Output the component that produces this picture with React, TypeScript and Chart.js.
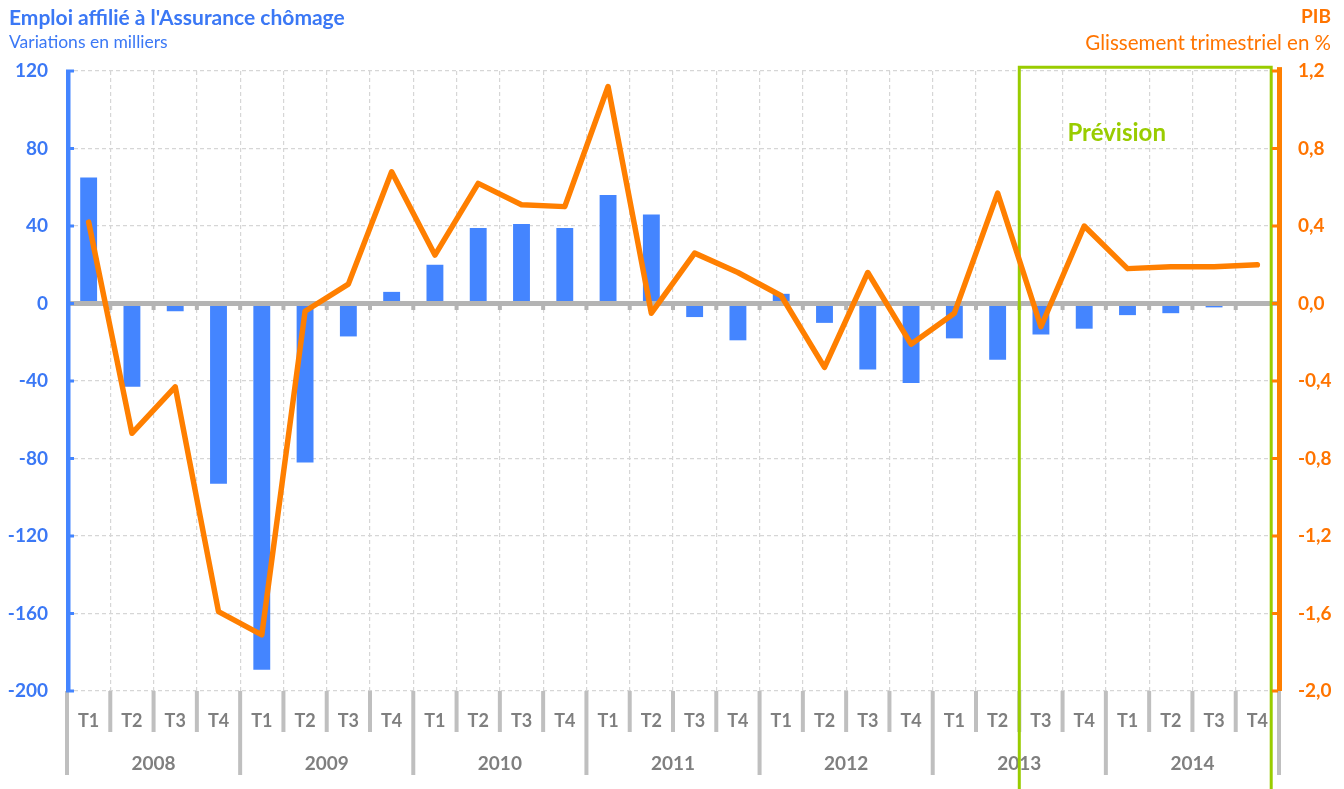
import React, { useEffect, useRef } from 'react';
import { Chart, registerables } from 'chart.js';

Chart.register(...registerables);

// ---- Data ----
const years = ['2008', '2009', '2010', '2011', '2012', '2013', '2014'];
const quarters = ['T1', 'T2', 'T3', 'T4'];
const labels = years.flatMap((y) => quarters.map((q) => `${q} ${y}`));

// Emploi affilié à l'Assurance chômage (variations en milliers)
const emploi = [
  65, -43, -4, -93,
  -189, -82, -17, 6,
  20, 39, 41, 39,
  56, 46, -7, -19,
  5, -10, -34, -41,
  -18, -29, -16, -13,
  -6, -5, -2, 0,
];

// PIB, glissement trimestriel en %
const pib = [
  0.42, -0.67, -0.43, -1.59,
  -1.71, -0.04, 0.10, 0.68,
  0.25, 0.62, 0.51, 0.50,
  1.12, -0.05, 0.26, 0.16,
  0.04, -0.33, 0.16, -0.21,
  -0.05, 0.57, -0.12, 0.40,
  0.18, 0.19, 0.19, 0.20,
];

const leftAxis = { min: -200, max: 120, step: 40 };
const rightAxis = { min: -2, max: 1.2, step: 0.4 };

// Forecast box spans (category index units)
const forecastFrom = 21.5;
const forecastTo = 27.32;
const forecastLabel = 'Prévision';
const forecastLabelAt = { x: 23.75, y: 0.88 };

const titleLeft = "Emploi affilié à l'Assurance chômage";
const subtitleLeft = 'Variations en milliers';
const titleRight = 'PIB';
const subtitleRight = 'Glissement trimestriel en %';

// ---- Styles ----
const FONT = 'Lato';
const BLUE = '#4485FF';
const BLUE_TEXT = '#3B78F5';
const ORANGE = '#FF7F00';
const ORANGE_TEXT = '#FF7400';
const GREEN = '#99CC00';
const GRID = '#D6D6D6';
const SEP = '#BFBFBF';
const ZERO = '#B4B4B4';
const LABEL_GRAY = '#7F7F7F';

const fmtComma = (v: number) => {
  const n = Math.abs(v) < 1e-9 ? 0 : v;
  return n.toFixed(1).replace('.', ',');
};

const decor = {
  id: 'decor',
  beforeDatasetsDraw(chart: any) {
    const { ctx, chartArea: a, scales } = chart;
    const x = scales.x;
    ctx.save();
    // category separators below the plot
    ctx.fillStyle = SEP;
    for (let i = 0; i <= labels.length; i++) {
      const xb = x.getPixelForValue(i - 0.5);
      const isYear = i % quarters.length === 0;
      ctx.fillRect(xb - 2, a.bottom, 4, isYear ? 84 : 41);
    }
    ctx.fillStyle = LABEL_GRAY;
    ctx.textAlign = 'center';
    ctx.textBaseline = 'middle';
    ctx.font = `bold 18px ${FONT}`;
    labels.forEach((_, i) => {
      ctx.fillText(quarters[i % quarters.length], x.getPixelForValue(i), a.bottom + 30);
    });
    ctx.font = `bold 19px ${FONT}`;
    years.forEach((yr, k) => {
      ctx.fillText(yr, x.getPixelForValue(k * quarters.length + 1.5), a.bottom + 73);
    });
    ctx.restore();
  },
  beforeDatasetDraw(chart: any, args: any) {
    if (args.meta.type !== 'line') return;
    const { ctx, chartArea: a, scales } = chart;
    const x = scales.x;
    const y = scales.y;
    const y1 = scales.y1;
    ctx.save();
    // zero axis line
    const y0 = y.getPixelForValue(0);
    ctx.fillStyle = ZERO;
    ctx.fillRect(a.left - 1, y0 - 2.5, a.right - a.left + 3, 5);
    for (let i = 1; i < labels.length; i++) {
      const xb = x.getPixelForValue(i - 0.5);
      ctx.fillRect(xb - 2, y0 + 2.5, 4, 4);
    }
    // forecast box
    const gl = x.getPixelForValue(forecastFrom);
    const gr = x.getPixelForValue(forecastTo);
    const gt = y1.getPixelForValue(1.22);
    ctx.strokeStyle = GREEN;
    ctx.lineWidth = 3;
    ctx.beginPath();
    ctx.moveTo(gl, chart.height + 5);
    ctx.lineTo(gl, gt);
    ctx.lineTo(gr, gt);
    ctx.lineTo(gr, chart.height + 5);
    ctx.stroke();
    ctx.fillStyle = GREEN;
    ctx.font = `bold 24px ${FONT}`;
    ctx.textAlign = 'center';
    ctx.textBaseline = 'middle';
    ctx.fillText(forecastLabel, x.getPixelForValue(forecastLabelAt.x), y1.getPixelForValue(forecastLabelAt.y));
    ctx.restore();
  },
  afterDatasetsDraw(chart: any) {
    const { ctx, chartArea: a, scales } = chart;
    const y = scales.y;
    const y1 = scales.y1;
    ctx.save();
    // left axis
    ctx.fillStyle = BLUE;
    ctx.fillRect(a.left - 1, a.top, 4.5, a.bottom - a.top);
    for (let v = leftAxis.min; v <= leftAxis.max; v += leftAxis.step) {
      const py = y.getPixelForValue(v);
      ctx.fillRect(a.left - 1, py - 1.5, 8, 3);
    }
    // right axis
    ctx.fillStyle = ORANGE;
    const top1 = y1.getPixelForValue(1.22);
    ctx.fillRect(a.right - 2, top1, 5, a.bottom - top1);
    for (let k = 0; k <= Math.round((rightAxis.max - rightAxis.min) / rightAxis.step); k++) {
      const py = y1.getPixelForValue(rightAxis.min + k * rightAxis.step);
      ctx.fillRect(a.right - 7, py - 1.5, 6, 3);
    }
    ctx.restore();
  },
  afterDraw(chart: any) {
    const { ctx, width } = chart;
    ctx.save();
    ctx.textBaseline = 'middle';
    ctx.fillStyle = BLUE_TEXT;
    ctx.textAlign = 'left';
    ctx.font = `bold 21px ${FONT}`;
    ctx.fillText(titleLeft, 9, 18);
    ctx.font = `17.5px ${FONT}`;
    ctx.fillText(subtitleLeft, 9, 42);
    ctx.fillStyle = ORANGE_TEXT;
    ctx.textAlign = 'right';
    ctx.font = `bold 19px ${FONT}`;
    ctx.fillText(titleRight, width - 13, 17);
    ctx.font = `20.5px ${FONT}`;
    ctx.fillText(subtitleRight, width - 13, 43);
    ctx.restore();
  },
};

export default function App() {
  const ref = useRef<HTMLCanvasElement | null>(null);

  useEffect(() => {
    document.body.style.margin = '0';
    const canvas = ref.current;
    if (!canvas) return;
    const chart = new Chart(canvas, {
      type: 'bar',
      data: {
        labels,
        datasets: [
          {
            type: 'line',
            label: titleRight,
            data: pib,
            yAxisID: 'y1',
            borderColor: ORANGE,
            backgroundColor: ORANGE,
            borderWidth: 5.5,
            pointRadius: 0,
            tension: 0,
            borderJoinStyle: 'round',
            borderCapStyle: 'round',
            order: 0,
          } as any,
          {
            type: 'bar',
            label: titleLeft,
            data: emploi,
            yAxisID: 'y',
            backgroundColor: BLUE,
            barPercentage: 0.39,
            categoryPercentage: 1,
            order: 1,
          } as any,
        ],
      },
      options: {
        responsive: false,
        animation: false,
        devicePixelRatio: 1,
        layout: { padding: { top: 71, left: 0, right: 0, bottom: 0 } },
        plugins: { legend: { display: false }, tooltip: { enabled: false } },
        scales: {
          x: {
            type: 'category',
            offset: true,
            grid: { offset: true, color: GRID, lineWidth: 1.2, drawTicks: false },
            border: { display: false, dash: [4, 3] },
            ticks: { display: false },
            afterFit: (s: any) => {
              s.height = 98;
            },
          },
          y: {
            position: 'left',
            min: leftAxis.min,
            max: leftAxis.max,
            ticks: {
              stepSize: leftAxis.step,
              color: BLUE_TEXT,
              font: { family: FONT, size: 19, weight: 'bold' },
              padding: 19,
            },
            grid: { color: GRID, lineWidth: 1.2, drawTicks: false },
            border: { display: false, dash: [4, 3] },
            afterFit: (s: any) => {
              s.width = 67;
            },
          },
          y1: {
            position: 'right',
            min: rightAxis.min,
            max: rightAxis.max,
            ticks: {
              stepSize: rightAxis.step,
              color: ORANGE_TEXT,
              font: { family: FONT, size: 19, weight: 'bold' },
              padding: 19,
              callback: (v: any) => fmtComma(Number(v)),
            },
            grid: { display: false, drawTicks: false },
            border: { display: false },
            afterFit: (s: any) => {
              s.width = 65;
            },
          },
        },
      } as any,
      plugins: [decor],
    });
    return () => chart.destroy();
  }, []);

  return (
    <div style={{ position: 'absolute', left: 0, top: 0, width: 1344, height: 789 }}>
      <canvas ref={ref} width={1344} height={789} />
    </div>
  );
}
